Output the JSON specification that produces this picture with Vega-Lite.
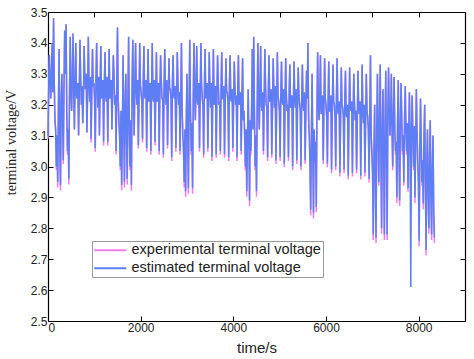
{
  "$schema": "https://vega.github.io/schema/vega-lite/v6.json",
  "width": 417,
  "height": 309,
  "autosize": {"type": "none"},
  "padding": {"left": 48, "top": 12, "right": 9, "bottom": 38},
  "background": "white",
  "config": {
    "view": {"stroke": null},
    "axis": {"grid": false, "domainColor": "#000", "tickColor": "#000", "labelFont": "Liberation Sans", "labelFontSize": 12, "labelColor": "#222", "tickSize": -5, "domainWidth": 1.2, "tickWidth": 1}
  },
  "data": {"values": [
    {"t":0,"exp":3.09,"est":3.10},{"t":15,"exp":3.25,"est":3.25},{"t":30,"exp":3.36,"est":3.36},{"t":45,"exp":3.28,"est":3.28},{"t":60,"exp":3.22,"est":3.22},{"t":75,"exp":3.30,"est":3.30},{"t":90,"exp":3.40,"est":3.40},{"t":105,"exp":3.24,"est":3.24},{"t":120,"exp":3.48,"est":3.48},{"t":135,"exp":3.27,"est":3.27},{"t":150,"exp":3.15,"est":3.15},{"t":165,"exp":3.12,"est":3.12},{"t":180,"exp":2.988,"est":3.00},{"t":195,"exp":3.10,"est":3.10},{"t":210,"exp":2.932,"est":2.95},{"t":225,"exp":3.20,"est":3.20},{"t":240,"exp":3.38,"est":3.38},{"t":255,"exp":3.05,"est":3.05},{"t":270,"exp":2.922,"est":2.94},{"t":285,"exp":3.22,"est":3.22},{"t":300,"exp":3.30,"est":3.30},{"t":315,"exp":3.15,"est":3.15},{"t":330,"exp":3.008,"est":3.02},{"t":345,"exp":3.26,"est":3.26},{"t":360,"exp":3.44,"est":3.44},{"t":375,"exp":3.30,"est":3.30},{"t":390,"exp":3.46,"est":3.46},{"t":405,"exp":3.18,"est":3.18},{"t":420,"exp":3.038,"est":3.05},{"t":435,"exp":3.12,"est":3.12},{"t":450,"exp":2.942,"est":2.96},{"t":465,"exp":3.25,"est":3.25},{"t":480,"exp":3.42,"est":3.42},{"t":495,"exp":3.23,"est":3.23},{"t":510,"exp":3.18,"est":3.18},{"t":525,"exp":3.29,"est":3.29},{"t":540,"exp":3.43,"est":3.43},{"t":555,"exp":3.25,"est":3.25},{"t":570,"exp":3.12,"est":3.12},{"t":585,"exp":3.28,"est":3.28},{"t":600,"exp":3.40,"est":3.40},{"t":615,"exp":3.23,"est":3.23},{"t":630,"exp":3.22,"est":3.22},{"t":645,"exp":3.27,"est":3.27},{"t":660,"exp":3.10,"est":3.10},{"t":675,"exp":3.24,"est":3.24},{"t":690,"exp":3.41,"est":3.41},{"t":705,"exp":3.29,"est":3.29},{"t":720,"exp":3.20,"est":3.20},{"t":735,"exp":3.26,"est":3.26},{"t":750,"exp":3.14,"est":3.14},{"t":765,"exp":3.22,"est":3.22},{"t":780,"exp":3.39,"est":3.39},{"t":795,"exp":3.28,"est":3.28},{"t":810,"exp":3.25,"est":3.25},{"t":825,"exp":3.30,"est":3.30},{"t":840,"exp":3.11,"est":3.11},{"t":855,"exp":3.24,"est":3.24},{"t":870,"exp":3.42,"est":3.42},{"t":885,"exp":3.27,"est":3.27},{"t":900,"exp":3.21,"est":3.21},{"t":915,"exp":3.29,"est":3.29},{"t":930,"exp":3.078,"est":3.09},{"t":945,"exp":3.23,"est":3.23},{"t":960,"exp":3.38,"est":3.38},{"t":975,"exp":3.26,"est":3.26},{"t":990,"exp":3.27,"est":3.27},{"t":1005,"exp":3.22,"est":3.22},{"t":1020,"exp":3.048,"est":3.06},{"t":1035,"exp":3.28,"est":3.28},{"t":1050,"exp":3.40,"est":3.40},{"t":1065,"exp":3.24,"est":3.24},{"t":1080,"exp":3.19,"est":3.19},{"t":1095,"exp":3.29,"est":3.29},{"t":1110,"exp":3.10,"est":3.10},{"t":1125,"exp":3.25,"est":3.25},{"t":1140,"exp":3.39,"est":3.39},{"t":1155,"exp":3.22,"est":3.22},{"t":1170,"exp":3.24,"est":3.24},{"t":1185,"exp":3.28,"est":3.28},{"t":1200,"exp":3.068,"est":3.08},{"t":1215,"exp":3.26,"est":3.26},{"t":1230,"exp":3.37,"est":3.37},{"t":1245,"exp":3.23,"est":3.23},{"t":1260,"exp":3.21,"est":3.21},{"t":1275,"exp":3.29,"est":3.29},{"t":1290,"exp":3.068,"est":3.08},{"t":1305,"exp":3.24,"est":3.24},{"t":1320,"exp":3.38,"est":3.38},{"t":1335,"exp":3.22,"est":3.22},{"t":1350,"exp":3.26,"est":3.26},{"t":1365,"exp":3.28,"est":3.28},{"t":1380,"exp":3.12,"est":3.12},{"t":1395,"exp":3.25,"est":3.25},{"t":1410,"exp":3.36,"est":3.36},{"t":1425,"exp":3.29,"est":3.29},{"t":1440,"exp":3.20,"est":3.20},{"t":1455,"exp":3.23,"est":3.23},{"t":1470,"exp":3.038,"est":3.05},{"t":1485,"exp":3.27,"est":3.27},
    {"t":1500,"exp":3.45,"est":3.45},{"t":1515,"exp":3.22,"est":3.22},{"t":1530,"exp":3.15,"est":3.15},{"t":1545,"exp":3.10,"est":3.10},{"t":1560,"exp":2.988,"est":3.00},{"t":1575,"exp":3.18,"est":3.18},{"t":1590,"exp":2.922,"est":2.94},{"t":1605,"exp":3.10,"est":3.10},{"t":1620,"exp":3.36,"est":3.36},{"t":1635,"exp":3.15,"est":3.15},{"t":1650,"exp":2.932,"est":2.95},{"t":1665,"exp":3.20,"est":3.20},{"t":1680,"exp":3.30,"est":3.30},{"t":1695,"exp":3.08,"est":3.08},{"t":1710,"exp":2.942,"est":2.96},{"t":1725,"exp":3.22,"est":3.22},{"t":1740,"exp":3.42,"est":3.42},{"t":1755,"exp":3.12,"est":3.12},{"t":1770,"exp":2.988,"est":3.00},{"t":1785,"exp":3.15,"est":3.15},{"t":1800,"exp":2.922,"est":2.94},{"t":1815,"exp":3.26,"est":3.26},{"t":1830,"exp":3.41,"est":3.41},{"t":1845,"exp":3.22,"est":3.22},{"t":1860,"exp":3.10,"est":3.10},{"t":1875,"exp":3.27,"est":3.27},{"t":1890,"exp":3.40,"est":3.40},{"t":1905,"exp":3.24,"est":3.24},{"t":1920,"exp":3.20,"est":3.20},{"t":1935,"exp":3.28,"est":3.28},{"t":1950,"exp":3.058,"est":3.07},{"t":1965,"exp":3.22,"est":3.22},{"t":1980,"exp":3.40,"est":3.40},{"t":1995,"exp":3.26,"est":3.26},{"t":2010,"exp":3.24,"est":3.24},{"t":2025,"exp":3.21,"est":3.21},{"t":2040,"exp":3.078,"est":3.09},{"t":2055,"exp":3.27,"est":3.27},{"t":2070,"exp":3.39,"est":3.39},{"t":2085,"exp":3.23,"est":3.23},{"t":2100,"exp":3.22,"est":3.22},{"t":2115,"exp":3.28,"est":3.28},{"t":2130,"exp":3.048,"est":3.06},{"t":2145,"exp":3.24,"est":3.24},{"t":2160,"exp":3.38,"est":3.38},{"t":2175,"exp":3.21,"est":3.21},{"t":2190,"exp":3.26,"est":3.26},{"t":2205,"exp":3.27,"est":3.27},{"t":2220,"exp":3.038,"est":3.05},{"t":2235,"exp":3.25,"est":3.25},{"t":2250,"exp":3.40,"est":3.40},{"t":2265,"exp":3.22,"est":3.22},{"t":2280,"exp":3.21,"est":3.21},{"t":2295,"exp":3.28,"est":3.28},{"t":2310,"exp":3.068,"est":3.08},{"t":2325,"exp":3.23,"est":3.23},{"t":2340,"exp":3.37,"est":3.37},{"t":2355,"exp":3.21,"est":3.21},{"t":2370,"exp":3.24,"est":3.24},{"t":2385,"exp":3.27,"est":3.27},{"t":2400,"exp":3.038,"est":3.05},{"t":2415,"exp":3.24,"est":3.24},{"t":2430,"exp":3.36,"est":3.36},{"t":2445,"exp":3.28,"est":3.28},{"t":2460,"exp":3.22,"est":3.22},{"t":2475,"exp":3.22,"est":3.22},{"t":2490,"exp":3.028,"est":3.04},{"t":2505,"exp":3.26,"est":3.26},{"t":2520,"exp":3.38,"est":3.38},{"t":2535,"exp":3.23,"est":3.23},{"t":2550,"exp":3.20,"est":3.20},{"t":2565,"exp":3.28,"est":3.28},{"t":2580,"exp":3.058,"est":3.07},{"t":2595,"exp":3.21,"est":3.21},{"t":2610,"exp":3.35,"est":3.35},{"t":2625,"exp":3.25,"est":3.25},{"t":2640,"exp":3.25,"est":3.25},{"t":2655,"exp":3.22,"est":3.22},{"t":2670,"exp":3.018,"est":3.03},{"t":2685,"exp":3.27,"est":3.27},{"t":2700,"exp":3.36,"est":3.36},{"t":2715,"exp":3.23,"est":3.23},{"t":2730,"exp":3.22,"est":3.22},{"t":2745,"exp":3.26,"est":3.26},{"t":2760,"exp":3.048,"est":3.06},{"t":2775,"exp":3.21,"est":3.21},{"t":2790,"exp":3.37,"est":3.37},{"t":2805,"exp":3.27,"est":3.27},{"t":2820,"exp":3.20,"est":3.20},{"t":2835,"exp":3.24,"est":3.24},{"t":2850,"exp":3.038,"est":3.05},{"t":2865,"exp":3.22,"est":3.22},{"t":2880,"exp":3.40,"est":3.40},{"t":2895,"exp":3.18,"est":3.18},{"t":2910,"exp":3.10,"est":3.10},{"t":2925,"exp":3.05,"est":3.05},
    {"t":2940,"exp":2.932,"est":2.95},{"t":2955,"exp":3.12,"est":3.12},{"t":2970,"exp":2.902,"est":2.92},{"t":2985,"exp":3.15,"est":3.15},{"t":3000,"exp":3.30,"est":3.30},{"t":3015,"exp":3.10,"est":3.10},{"t":3030,"exp":2.912,"est":2.93},{"t":3045,"exp":3.20,"est":3.20},{"t":3060,"exp":3.41,"est":3.41},{"t":3075,"exp":3.18,"est":3.18},{"t":3090,"exp":3.038,"est":3.05},{"t":3105,"exp":3.14,"est":3.14},{"t":3120,"exp":2.912,"est":2.93},{"t":3135,"exp":3.22,"est":3.22},{"t":3150,"exp":3.40,"est":3.40},{"t":3165,"exp":3.24,"est":3.24},{"t":3180,"exp":3.15,"est":3.15},{"t":3195,"exp":3.26,"est":3.26},{"t":3210,"exp":3.39,"est":3.39},{"t":3225,"exp":3.21,"est":3.21},{"t":3240,"exp":3.20,"est":3.20},{"t":3255,"exp":3.27,"est":3.27},{"t":3270,"exp":3.048,"est":3.06},{"t":3285,"exp":3.23,"est":3.23},{"t":3300,"exp":3.40,"est":3.40},{"t":3315,"exp":3.26,"est":3.26},{"t":3330,"exp":3.22,"est":3.22},{"t":3345,"exp":3.20,"est":3.20},{"t":3360,"exp":3.028,"est":3.04},{"t":3375,"exp":3.25,"est":3.25},{"t":3390,"exp":3.38,"est":3.38},{"t":3405,"exp":3.22,"est":3.22},{"t":3420,"exp":3.24,"est":3.24},{"t":3435,"exp":3.27,"est":3.27},{"t":3450,"exp":3.048,"est":3.06},{"t":3465,"exp":3.21,"est":3.21},{"t":3480,"exp":3.37,"est":3.37},{"t":3495,"exp":3.25,"est":3.25},{"t":3510,"exp":3.19,"est":3.19},{"t":3525,"exp":3.27,"est":3.27},{"t":3540,"exp":3.018,"est":3.03},{"t":3555,"exp":3.22,"est":3.22},{"t":3570,"exp":3.38,"est":3.38},{"t":3585,"exp":3.20,"est":3.20},{"t":3600,"exp":3.23,"est":3.23},{"t":3615,"exp":3.26,"est":3.26},{"t":3630,"exp":3.028,"est":3.04},{"t":3645,"exp":3.23,"est":3.23},{"t":3660,"exp":3.36,"est":3.36},{"t":3675,"exp":3.27,"est":3.27},{"t":3690,"exp":3.20,"est":3.20},{"t":3705,"exp":3.21,"est":3.21},{"t":3720,"exp":3.038,"est":3.05},{"t":3735,"exp":3.25,"est":3.25},{"t":3750,"exp":3.37,"est":3.37},{"t":3765,"exp":3.22,"est":3.22},{"t":3780,"exp":3.22,"est":3.22},{"t":3795,"exp":3.26,"est":3.26},{"t":3810,"exp":3.028,"est":3.04},{"t":3825,"exp":3.20,"est":3.20},{"t":3840,"exp":3.35,"est":3.35},{"t":3855,"exp":3.24,"est":3.24},{"t":3870,"exp":3.24,"est":3.24},{"t":3885,"exp":3.21,"est":3.21},{"t":3900,"exp":3.018,"est":3.03},{"t":3915,"exp":3.26,"est":3.26},{"t":3930,"exp":3.36,"est":3.36},{"t":3945,"exp":3.22,"est":3.22},{"t":3960,"exp":3.21,"est":3.21},{"t":3975,"exp":3.25,"est":3.25},{"t":3990,"exp":3.048,"est":3.06},{"t":4005,"exp":3.20,"est":3.20},{"t":4020,"exp":3.34,"est":3.34},{"t":4035,"exp":3.26,"est":3.26},{"t":4050,"exp":3.20,"est":3.20},{"t":4065,"exp":3.23,"est":3.23},{"t":4080,"exp":3.018,"est":3.03},{"t":4095,"exp":3.25,"est":3.25},{"t":4110,"exp":3.36,"est":3.36},{"t":4125,"exp":3.20,"est":3.20},{"t":4140,"exp":3.22,"est":3.22},{"t":4155,"exp":3.24,"est":3.24},{"t":4170,"exp":3.038,"est":3.05},{"t":4185,"exp":3.22,"est":3.22},{"t":4200,"exp":3.35,"est":3.35},{"t":4215,"exp":3.15,"est":3.15},{"t":4230,"exp":3.18,"est":3.18},{"t":4245,"exp":3.10,"est":3.10},{"t":4260,"exp":2.988,"est":3.00},{"t":4275,"exp":3.12,"est":3.12},{"t":4290,"exp":2.902,"est":2.92},{"t":4305,"exp":3.08,"est":3.08},
    {"t":4320,"exp":3.25,"est":3.25},{"t":4335,"exp":3.10,"est":3.10},{"t":4350,"exp":2.872,"est":2.89},{"t":4365,"exp":3.15,"est":3.15},{"t":4380,"exp":3.038,"est":3.05},{"t":4395,"exp":3.20,"est":3.20},{"t":4410,"exp":3.38,"est":3.38},{"t":4425,"exp":3.12,"est":3.12},{"t":4440,"exp":3.42,"est":3.42},{"t":4455,"exp":3.18,"est":3.18},{"t":4470,"exp":2.988,"est":3.00},{"t":4485,"exp":3.10,"est":3.10},{"t":4500,"exp":2.902,"est":2.92},{"t":4515,"exp":3.20,"est":3.20},{"t":4530,"exp":3.40,"est":3.40},{"t":4545,"exp":3.22,"est":3.22},{"t":4560,"exp":3.12,"est":3.12},{"t":4575,"exp":3.25,"est":3.25},{"t":4590,"exp":3.39,"est":3.39},{"t":4605,"exp":3.20,"est":3.20},{"t":4620,"exp":3.18,"est":3.18},{"t":4635,"exp":3.24,"est":3.24},{"t":4650,"exp":3.038,"est":3.05},{"t":4665,"exp":3.21,"est":3.21},{"t":4680,"exp":3.38,"est":3.38},{"t":4695,"exp":3.26,"est":3.26},{"t":4710,"exp":3.20,"est":3.20},{"t":4725,"exp":3.19,"est":3.19},{"t":4740,"exp":3.018,"est":3.03},{"t":4755,"exp":3.24,"est":3.24},{"t":4770,"exp":3.36,"est":3.36},{"t":4785,"exp":3.21,"est":3.21},{"t":4800,"exp":3.22,"est":3.22},{"t":4815,"exp":3.25,"est":3.25},{"t":4830,"exp":3.028,"est":3.04},{"t":4845,"exp":3.19,"est":3.19},{"t":4860,"exp":3.35,"est":3.35},{"t":4875,"exp":3.24,"est":3.24},{"t":4890,"exp":3.19,"est":3.19},{"t":4905,"exp":3.26,"est":3.26},{"t":4920,"exp":3.008,"est":3.02},{"t":4935,"exp":3.20,"est":3.20},{"t":4950,"exp":3.37,"est":3.37},{"t":4965,"exp":3.23,"est":3.23},{"t":4980,"exp":3.21,"est":3.21},{"t":4995,"exp":3.18,"est":3.18},{"t":5010,"exp":3.018,"est":3.03},{"t":5025,"exp":3.24,"est":3.24},{"t":5040,"exp":3.34,"est":3.34},{"t":5055,"exp":3.21,"est":3.21},{"t":5070,"exp":3.20,"est":3.20},{"t":5085,"exp":3.25,"est":3.25},{"t":5100,"exp":2.998,"est":3.01},{"t":5115,"exp":3.19,"est":3.19},{"t":5130,"exp":3.35,"est":3.35},{"t":5145,"exp":3.23,"est":3.23},{"t":5160,"exp":3.18,"est":3.18},{"t":5175,"exp":3.20,"est":3.20},{"t":5190,"exp":3.018,"est":3.03},{"t":5205,"exp":3.24,"est":3.24},{"t":5220,"exp":3.33,"est":3.33},{"t":5235,"exp":3.19,"est":3.19},{"t":5250,"exp":3.21,"est":3.21},{"t":5265,"exp":3.23,"est":3.23},{"t":5280,"exp":2.988,"est":3.00},{"t":5295,"exp":3.18,"est":3.18},{"t":5310,"exp":3.34,"est":3.34},{"t":5325,"exp":3.22,"est":3.22},{"t":5340,"exp":3.19,"est":3.19},{"t":5355,"exp":3.25,"est":3.25},{"t":5370,"exp":3.008,"est":3.02},{"t":5385,"exp":3.19,"est":3.19},{"t":5400,"exp":3.32,"est":3.32},{"t":5415,"exp":3.23,"est":3.23},{"t":5430,"exp":3.20,"est":3.20},{"t":5445,"exp":3.18,"est":3.18},{"t":5460,"exp":2.988,"est":3.00},{"t":5475,"exp":3.22,"est":3.22},{"t":5490,"exp":3.33,"est":3.33},{"t":5505,"exp":3.20,"est":3.20},{"t":5520,"exp":3.18,"est":3.18},{"t":5535,"exp":3.24,"est":3.24},{"t":5550,"exp":3.008,"est":3.02},{"t":5565,"exp":3.18,"est":3.18},{"t":5580,"exp":3.31,"est":3.31},{"t":5595,"exp":3.22,"est":3.22},{"t":5610,"exp":3.40,"est":3.40},{"t":5625,"exp":3.15,"est":3.15},{"t":5640,"exp":3.10,"est":3.10},{"t":5655,"exp":3.00,"est":3.00},
    {"t":5670,"exp":2.842,"est":2.86},{"t":5685,"exp":3.10,"est":3.10},{"t":5700,"exp":3.30,"est":3.30},{"t":5715,"exp":3.05,"est":3.05},{"t":5730,"exp":2.832,"est":2.85},{"t":5745,"exp":3.12,"est":3.12},{"t":5760,"exp":3.008,"est":3.02},{"t":5775,"exp":3.08,"est":3.08},{"t":5790,"exp":2.852,"est":2.87},{"t":5805,"exp":3.18,"est":3.18},{"t":5820,"exp":3.37,"est":3.37},{"t":5835,"exp":3.20,"est":3.20},{"t":5850,"exp":3.15,"est":3.15},{"t":5865,"exp":3.22,"est":3.22},{"t":5880,"exp":3.36,"est":3.36},{"t":5895,"exp":3.17,"est":3.17},{"t":5910,"exp":3.18,"est":3.18},{"t":5925,"exp":3.23,"est":3.23},{"t":5940,"exp":3.008,"est":3.02},{"t":5955,"exp":3.19,"est":3.19},{"t":5970,"exp":3.35,"est":3.35},{"t":5985,"exp":3.22,"est":3.22},{"t":6000,"exp":3.20,"est":3.20},{"t":6015,"exp":3.16,"est":3.16},{"t":6030,"exp":2.998,"est":3.01},{"t":6045,"exp":3.21,"est":3.21},{"t":6060,"exp":3.34,"est":3.34},{"t":6075,"exp":3.18,"est":3.18},{"t":6090,"exp":3.18,"est":3.18},{"t":6105,"exp":3.23,"est":3.23},{"t":6120,"exp":2.978,"est":2.99},{"t":6135,"exp":3.17,"est":3.17},{"t":6150,"exp":3.33,"est":3.33},{"t":6165,"exp":3.21,"est":3.21},{"t":6180,"exp":3.20,"est":3.20},{"t":6195,"exp":3.16,"est":3.16},{"t":6210,"exp":2.988,"est":3.00},{"t":6225,"exp":3.22,"est":3.22},{"t":6240,"exp":3.35,"est":3.35},{"t":6255,"exp":3.18,"est":3.18},{"t":6270,"exp":3.17,"est":3.17},{"t":6285,"exp":3.21,"est":3.21},{"t":6300,"exp":2.968,"est":2.98},{"t":6315,"exp":3.15,"est":3.15},{"t":6330,"exp":3.32,"est":3.32},{"t":6345,"exp":3.20,"est":3.20},{"t":6360,"exp":3.19,"est":3.19},{"t":6375,"exp":3.16,"est":3.16},{"t":6390,"exp":2.978,"est":2.99},{"t":6405,"exp":3.21,"est":3.21},{"t":6420,"exp":3.31,"est":3.31},{"t":6435,"exp":3.17,"est":3.17},{"t":6450,"exp":3.16,"est":3.16},{"t":6465,"exp":3.20,"est":3.20},{"t":6480,"exp":2.958,"est":2.97},{"t":6495,"exp":3.15,"est":3.15},{"t":6510,"exp":3.32,"est":3.32},{"t":6525,"exp":3.19,"est":3.19},{"t":6540,"exp":3.18,"est":3.18},{"t":6555,"exp":3.21,"est":3.21},{"t":6570,"exp":2.968,"est":2.98},{"t":6585,"exp":3.16,"est":3.16},{"t":6600,"exp":3.30,"est":3.30},{"t":6615,"exp":3.20,"est":3.20},{"t":6630,"exp":3.15,"est":3.15},{"t":6645,"exp":3.18,"est":3.18},{"t":6660,"exp":2.978,"est":2.99},{"t":6675,"exp":3.14,"est":3.14},{"t":6690,"exp":3.31,"est":3.31},{"t":6705,"exp":3.19,"est":3.19},{"t":6720,"exp":3.17,"est":3.17},{"t":6735,"exp":3.21,"est":3.21},{"t":6750,"exp":2.958,"est":2.97},{"t":6765,"exp":3.15,"est":3.15},{"t":6780,"exp":3.33,"est":3.33},{"t":6795,"exp":3.18,"est":3.18},{"t":6810,"exp":3.14,"est":3.14},{"t":6825,"exp":3.20,"est":3.20},{"t":6840,"exp":2.968,"est":2.98},{"t":6855,"exp":3.14,"est":3.14},{"t":6870,"exp":3.30,"est":3.30},{"t":6885,"exp":3.18,"est":3.18},{"t":6900,"exp":3.16,"est":3.16},{"t":6915,"exp":3.12,"est":3.12},{"t":6930,"exp":2.948,"est":2.96},{"t":6945,"exp":3.16,"est":3.16},{"t":6960,"exp":3.36,"est":3.36},{"t":6975,"exp":3.10,"est":3.10},{"t":6990,"exp":3.038,"est":3.05},{"t":7005,"exp":2.98,"est":2.98},
    {"t":7020,"exp":2.762,"est":2.78},{"t":7035,"exp":3.05,"est":3.05},{"t":7050,"exp":3.20,"est":3.20},{"t":7065,"exp":2.95,"est":2.95},{"t":7080,"exp":2.752,"est":2.77},{"t":7095,"exp":3.12,"est":3.12},{"t":7110,"exp":3.30,"est":3.30},{"t":7125,"exp":3.10,"est":3.10},{"t":7140,"exp":2.938,"est":2.95},{"t":7155,"exp":3.15,"est":3.15},{"t":7170,"exp":3.33,"est":3.33},{"t":7185,"exp":3.05,"est":3.05},{"t":7200,"exp":2.782,"est":2.80},{"t":7215,"exp":3.12,"est":3.12},{"t":7230,"exp":3.25,"est":3.25},{"t":7245,"exp":3.00,"est":3.00},{"t":7260,"exp":2.762,"est":2.78},{"t":7275,"exp":3.14,"est":3.14},{"t":7290,"exp":3.31,"est":3.31},{"t":7305,"exp":3.02,"est":3.02},{"t":7320,"exp":2.762,"est":2.78},{"t":7335,"exp":3.16,"est":3.16},{"t":7350,"exp":3.32,"est":3.32},{"t":7365,"exp":3.18,"est":3.18},{"t":7380,"exp":3.10,"est":3.10},{"t":7395,"exp":3.15,"est":3.15},{"t":7410,"exp":3.30,"est":3.30},{"t":7425,"exp":3.12,"est":3.12},{"t":7440,"exp":2.988,"est":3.00},{"t":7455,"exp":3.17,"est":3.17},{"t":7470,"exp":3.29,"est":3.29},{"t":7485,"exp":3.12,"est":3.12},{"t":7500,"exp":3.038,"est":3.05},{"t":7515,"exp":3.08,"est":3.08},{"t":7530,"exp":2.882,"est":2.90},{"t":7545,"exp":3.15,"est":3.15},{"t":7560,"exp":3.28,"est":3.28},{"t":7575,"exp":3.05,"est":3.05},{"t":7590,"exp":2.872,"est":2.89},{"t":7605,"exp":3.14,"est":3.14},{"t":7620,"exp":3.27,"est":3.27},{"t":7635,"exp":3.16,"est":3.16},{"t":7650,"exp":3.038,"est":3.05},{"t":7665,"exp":3.10,"est":3.10},{"t":7680,"exp":2.938,"est":2.95},{"t":7695,"exp":3.15,"est":3.15},{"t":7710,"exp":3.26,"est":3.26},{"t":7725,"exp":3.12,"est":3.12},{"t":7740,"exp":3.038,"est":3.05},{"t":7755,"exp":3.14,"est":3.14},{"t":7770,"exp":2.918,"est":2.93},{"t":7785,"exp":3.10,"est":3.10},{"t":7800,"exp":3.24,"est":3.24},{"t":7815,"exp":3.08,"est":3.08},{"t":7830,"exp":2.90,"est":2.61},{"t":7845,"exp":3.12,"est":3.12},{"t":7860,"exp":3.23,"est":3.23},{"t":7875,"exp":3.10,"est":3.10},{"t":7890,"exp":2.988,"est":3.00},{"t":7905,"exp":3.13,"est":3.13},{"t":7920,"exp":2.882,"est":2.90},{"t":7935,"exp":3.08,"est":3.08},{"t":7950,"exp":3.25,"est":3.25},{"t":7965,"exp":3.11,"est":3.11},{"t":7980,"exp":3.008,"est":3.02},{"t":7995,"exp":2.95,"est":2.95},{"t":8010,"exp":2.742,"est":2.76},{"t":8025,"exp":3.05,"est":3.05},{"t":8040,"exp":3.22,"est":3.22},{"t":8055,"exp":3.08,"est":3.08},{"t":8070,"exp":2.938,"est":2.95},{"t":8085,"exp":3.02,"est":3.02},{"t":8100,"exp":2.862,"est":2.88},{"t":8115,"exp":3.10,"est":3.10},{"t":8130,"exp":3.20,"est":3.20},{"t":8145,"exp":2.95,"est":2.95},{"t":8160,"exp":2.712,"est":2.73},{"t":8175,"exp":3.00,"est":3.00},{"t":8190,"exp":3.12,"est":3.12},{"t":8205,"exp":2.92,"est":2.92},{"t":8220,"exp":2.782,"est":2.80},{"t":8235,"exp":3.02,"est":3.02},{"t":8250,"exp":3.15,"est":3.15},{"t":8265,"exp":2.90,"est":2.90},{"t":8280,"exp":2.762,"est":2.78},{"t":8295,"exp":3.00,"est":3.00},{"t":8310,"exp":3.10,"est":3.10},{"t":8325,"exp":2.85,"est":2.85},{"t":8340,"exp":2.752,"est":2.77}
  ]},
  "transform": [{"fold": ["exp", "est"], "as": ["series", "v"]}],
  "layer": [
    {
      "mark": {"type": "line", "strokeWidth": 1.5},
      "encoding": {
        "x": {"field": "t", "type": "quantitative", "scale": {"domain": [0, 9000], "nice": false},
              "axis": {"orient": "bottom", "values": [0, 2000, 4000, 6000, 8000], "format": "d", "title": "time/s", "titleFont": "Liberation Sans", "titleFontSize": 15, "titleFontWeight": "normal", "titleColor": "#222", "titlePadding": 7, "labelPadding": 6}},
        "y": {"field": "v", "type": "quantitative", "scale": {"domain": [2.5, 3.5], "nice": false, "zero": false},
              "axis": {"orient": "left", "values": [2.5, 2.6, 2.7, 2.8, 2.9, 3.0, 3.1, 3.2, 3.3, 3.4, 3.5], "format": ".1f", "title": "terminal voltage/V", "titleFont": "Liberation Serif", "titleFontSize": 14, "titleFontWeight": "normal", "titleColor": "#222", "titleX": -30, "titleY": 130, "titleAngle": -90, "titleBaseline": "bottom", "titleAlign": "center", "labelPadding": 6}},
        "color": {"field": "series", "type": "nominal",
                  "scale": {"domain": ["exp", "est"], "range": ["#f07cf0", "#5d7ef5"]},
                  "legend": {"orient": "none", "legendX": 44, "legendY": 229, "title": null, "direction": "vertical",
                             "labelExpr": "datum.label == 'exp' ? 'experimental terminal voltage' : 'estimated terminal voltage'",
                             "symbolType": "M-3.2,0H3.2", "symbolSize": 100, "symbolStrokeWidth": 2, "symbolOffset": 9,
                             "labelFont": "Liberation Sans", "labelFontSize": 14.5, "labelColor": "#222",
                             "strokeColor": "#999", "fillColor": "white", "padding": 2, "rowPadding": 3, "labelOffset": 14, "labelLimit": 400}}
      }
    },
    {
      "mark": {"type": "line", "opacity": 0},
      "encoding": {
        "x": {"field": "t", "type": "quantitative", "axis": {"orient": "top", "values": [0, 1000, 2000, 3000, 4000, 5000, 6000, 7000, 8000, 9000], "labels": false, "title": null}},
        "y": {"field": "v", "type": "quantitative", "axis": {"orient": "right", "values": [2.5, 2.6, 2.7, 2.8, 2.9, 3.0, 3.1, 3.2, 3.3, 3.4, 3.5], "labels": false, "title": null}},
        "detail": {"field": "series"}
      }
    }
  ],
  "resolve": {"axis": {"x": "independent", "y": "independent"}}
}
